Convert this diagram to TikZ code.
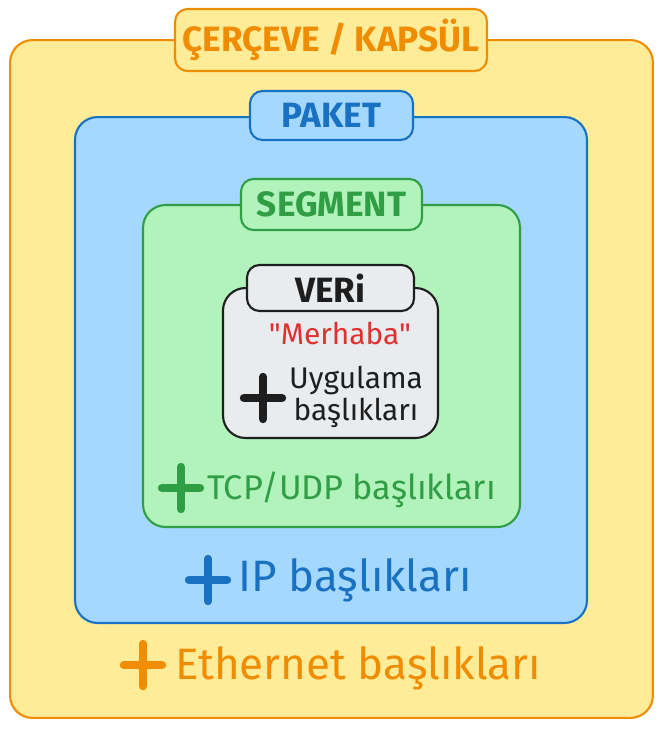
\documentclass[tikz,border=0pt]{standalone}
\usepackage{fontspec}
\setmainfont{Fira Sans}
\newfontfamily\labelfont{Fira Sans}
\newfontfamily\dataFont{Fira Sans}[Ligatures=TeXOff]
\usetikzlibrary{positioning}
\definecolor{frameOrange}{HTML}{F08C00}
\definecolor{frameYellow}{HTML}{FFEC99}
\definecolor{paketBlue}{HTML}{1971C2}
\definecolor{paketFill}{HTML}{A5D8FF}
\definecolor{segGreen}{HTML}{2F9E44}
\definecolor{segFill}{HTML}{B2F2BB}
\definecolor{veriFill}{HTML}{E9ECEF}
\definecolor{veriBlack}{HTML}{1E1E1E}
\definecolor{dataRed}{HTML}{E03131}
\tikzset{
  layerBox/.style = {rounded corners=0.45cm, line width=1.2pt, inner sep=0pt},
  layerTag/.style = {rounded corners=0.25cm, line width=1.2pt, inner sep=0pt,
                     font=\labelfont\bfseries\fontsize{20}{22}\selectfont},
  headerText/.style = {anchor=west, inner sep=0pt},
  pics/plusSign/.style = {code={
      \draw[line width=4.8pt, line cap=round, #1] (-19,0) -- (19,0) (0,-21) -- (0,21);}}
}

\begin{document}
\begin{tikzpicture}[x=0.02cm, y=-0.02cm]
    \useasboundingbox (0,0) rectangle (663,735);
    % layers, outside in
    \node (frame) [layerBox, draw=frameOrange, fill=frameYellow, minimum width=12.86cm, minimum height=13.56cm] at (331.5,379) {};
    \node (paket) [layerBox, draw=paketBlue, fill=paketFill, minimum width=10.24cm, minimum height=10.12cm] at (331,370) {};
    \node (segment) [layerBox, draw=segGreen, fill=segFill, minimum width=7.54cm, minimum height=6.44cm] at (331.5,366) {};
    \node (veri) [layerBox, draw=veriBlack, fill=veriFill, minimum width=4.3cm, minimum height=3cm] at (330.5,363) {};
    % tags on the top edges
    \node (frameTag) [layerTag, draw=frameOrange, fill=frameYellow, text=frameOrange, minimum width=6.24cm, minimum height=1.24cm] at (331,40) {ÇERÇEVE / KAPSÜL};
    \node (paketTag) [layerTag, draw=paketBlue, fill=paketFill, text=paketBlue, minimum width=3.26cm, minimum height=0.98cm] at (331.5,115.5) {PAKET};
    \node (segmentTag) [layerTag, draw=segGreen, fill=segFill, text=segGreen, minimum width=3.62cm, minimum height=1.02cm] at (331.5,204.5) {SEGMENT};
    \node (veriTag) [layerTag, draw=veriBlack, fill=veriFill, text=veriBlack, minimum width=3.34cm, minimum height=0.92cm] at (330.5,288) {VERi};
    % contents
    \node (data) [text=dataRed, font=\dataFont\fontsize{17}{20}\selectfont] at (340,333) {"Merhaba"};
    \node (appHdr) [text=veriBlack, align=center, font=\fontsize{17}{18}\selectfont] at (356,397) {Uygulama\\başlıkları};
    \pic at (263,398) {plusSign=veriBlack};
    \node (tcpHdr) [headerText, text=segGreen, font=\fontsize{19.5}{22}\selectfont] at (207,490) {TCP/UDP başlıkları};
    \pic at (181,488) {plusSign=segGreen};
    \node (ipHdr) [headerText, text=paketBlue, font=\fontsize{25}{28}\selectfont] at (238,580) {IP başlıkları};
    \pic at (208,580) {plusSign=paketBlue};
    \node (ethHdr) [headerText, text=frameOrange, font=\fontsize{25}{28}\selectfont] at (175,668) {Ethernet başlıkları};
    \pic at (143,665) {plusSign=frameOrange};
\end{tikzpicture}
\end{document}
